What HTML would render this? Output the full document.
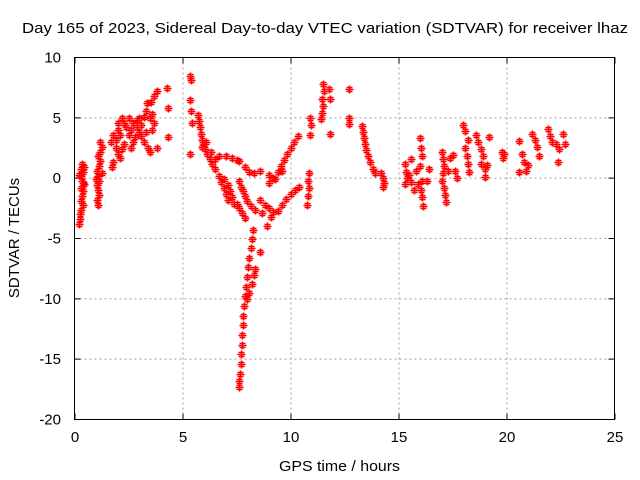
<!DOCTYPE html>
<html><head><meta charset="utf-8"><style>
body{margin:0;background:#fff}
svg{display:block;font-family:"Liberation Sans",sans-serif}
</style></head><body>
<svg id="chart" width="640" height="480">
<rect width="640" height="480" fill="#fff"/>
<text x="22" y="33" font-size="15" textLength="606" lengthAdjust="spacingAndGlyphs" fill="#000">Day 165 of 2023, Sidereal Day-to-day VTEC variation (SDTVAR) for receiver lhaz</text>
<text x="279" y="471" font-size="15" textLength="121" lengthAdjust="spacingAndGlyphs">GPS time / hours</text>
<text transform="translate(19,238) rotate(-90)" font-size="15" text-anchor="middle">SDTVAR / TECUs</text>
<g id="grid"></g><g id="ticks"></g><g id="marks"></g>
<rect x="74.5" y="57.5" width="540" height="362" fill="none" stroke="#000"/>
</svg>
<script>
const xTicks=[0,5,10,15,20,25];
const yTicks=[10,5,0,-5,-10,-15,-20];
const hours=[0.35,0.3,0.4,0.3,0.35,0.45,0.3,0.4,0.35,0.3,0.4,0.3,0.25,0.25,0.2,0.45,0.2,0.4,
1.1,1.05,1.15,1.1,1.05,1.15,1.1,1.05,1.15,1.2,1.1,1.2,1.25,1.2,1.0,1.25,
1.75,1.8,1.7,1.8,1.9,2.0,2.1,2.2,1.9,2.0,2.2,2.3,2.4,2.5,2.3,2.6,2.7,2.8,2.5,2.7,2.9,3.0,3.1,3.2,3.3,3.35,3.0,2.9,3.1,3.2,3.4,3.5,3.6,3.7,3.5,3.6,3.55,3.7,3.8,3.8,2.1,2.0,2.6,3.3,
4.3,4.35,4.35,5.35,5.4,5.35,5.4,5.45,5.35,
5.7,5.75,5.8,5.85,5.9,6.0,6.05,6.15,6.25,6.35,6.5,5.9,6.1,6.3,6.5,6.7,7.0,7.3,7.6,7.9,8.1,8.3,8.6,9.0,7.5,
6.7,6.8,6.9,7.0,7.1,6.9,7.1,7.2,7.3,7.4,7.6,7.7,7.8,7.9,8.0,8.15,8.35,7.5,7.6,7.75,7.9,
8.25,8.2,8.15,8.1,8.05,8.0,7.95,7.9,7.85,7.8,7.8,7.75,7.75,7.7,7.7,7.65,7.6,7.6,8.3,8.2,8.1,8.0,8.35,
8.6,8.8,9.0,9.2,8.7,9.1,8.9,8.6,9.4,9.6,9.8,10.0,10.2,10.4,
9.0,9.2,9.4,9.55,9.7,9.85,10.0,10.15,10.35,9.3,9.6,
10.9,10.95,10.9,10.85,10.8,10.85,10.8,10.75,
11.5,11.55,11.45,11.5,11.45,11.4,11.8,11.85,11.85,12.7,12.7,12.7,
13.3,13.35,13.4,13.45,13.5,13.6,13.7,13.8,13.9,14.3,14.35,14.3,14.2,
15.3,15.35,15.4,15.3,15.6,15.6,15.8,15.9,15.7,16.0,16.05,16.1,16.0,16.1,16.05,16.1,16.15,16.3,16.4,15.5,
17.0,17.05,17.1,17.05,17.0,17.1,17.15,17.2,17.3,17.4,17.5,17.6,17.7,
18.0,18.1,18.2,18.1,18.15,18.2,18.25,18.6,18.7,18.8,18.9,18.8,19.0,19.2,19.0,19.1,
19.8,19.85,19.9,20.6,20.7,20.8,20.9,20.6,21.0,21.2,21.3,21.4,21.5,21.9,22.0,22.1,22.3,22.45,22.4,22.6,22.7];
const sdtvar=[1.2,0.8,0.5,0.2,-0.2,-0.5,-0.8,-1.1,-1.5,-1.9,-2.2,-2.6,-3.0,-3.4,-3.8,0.9,0.3,-0.4,
-2.2,-1.8,-1.4,-1.0,-0.6,-0.2,0.2,0.6,1.0,1.4,1.8,2.2,2.6,3.0,-0.1,0.4,
0.9,1.3,3.0,3.6,2.5,2.0,1.7,2.4,3.2,4.0,5.0,4.6,4.2,3.6,2.8,2.5,3.0,3.4,5.0,4.6,4.2,3.8,4.4,5.1,5.6,6.2,5.0,4.8,3.5,3.0,2.5,2.2,4.0,4.6,5.0,5.3,6.3,6.8,7.2,2.5,3.6,4.6,4.0,3.8,
7.5,5.8,3.4,8.5,8.1,6.5,5.6,4.6,2.0,
5.2,4.7,4.2,3.7,3.2,2.8,2.4,2.0,1.6,1.2,0.8,2.6,3.0,2.2,1.6,1.8,1.8,1.7,1.4,0.9,0.5,0.4,0.6,0.3,1.5,
0.2,-0.3,-0.8,-1.3,-1.8,-0.1,-0.6,-1.1,-1.6,-2.1,-0.2,-0.7,-1.1,-1.5,-1.9,-2.3,-2.6,-2.1,-2.5,-2.9,-3.3,
-4.3,-5.0,-5.8,-6.6,-7.4,-8.2,-9.0,-9.8,-10.6,-11.4,-12.2,-13.0,-13.8,-14.6,-15.4,-16.2,-16.8,-17.3,-8.0,-8.8,-9.5,-10.0,-7.5,
-1.8,-2.2,-2.5,-2.8,-2.9,-3.2,-4.0,-6.1,-2.7,-2.2,-1.7,-1.3,-1.0,-0.7,
-0.4,0.0,0.5,1.0,1.5,2.0,2.5,3.0,3.5,-0.1,0.6,
5.0,4.4,3.6,0.4,-0.2,-0.8,-1.5,-2.2,
7.8,7.2,6.6,6.0,5.4,4.9,7.4,6.6,3.7,7.4,5.0,4.5,
4.3,3.8,3.3,2.8,2.3,1.8,1.3,0.8,0.4,0.0,-0.4,-0.7,0.4,
1.2,0.5,0,-0.5,1.6,-0.3,0.6,-0.5,-1.0,3.3,2.5,1.8,1.0,-0.2,-1.0,-1.6,-2.3,-0.2,0.8,0.3,
2.2,1.6,1.0,0.4,-0.2,-0.8,-1.4,-2.0,0.6,1.7,1.9,0.6,0.0,
4.4,3.9,3.2,2.5,1.8,1.2,0.5,3.6,3.0,2.4,1.8,1.2,0.8,3.4,0.1,1.1,
2.2,1.7,2.0,3.1,2.0,1.3,0.6,0.5,1.1,3.7,3.2,2.6,1.8,4.1,3.5,3.0,2.8,2.4,1.3,3.7,2.8];

const X0=74.5,X1=614.5,Y0=419.5,Y1=57.5;
function sx(v){return X0+(v-0)/(25-0)*(X1-X0);}
function sy(v){return Y0-(v-(-20))/(10-(-20))*(Y0-Y1);}
const NS='http://www.w3.org/2000/svg';
function mk(tag,attrs,parent){const e=document.createElementNS(NS,tag);for(const k in attrs)e.setAttribute(k,attrs[k]);parent.appendChild(e);return e;}
const grid=document.getElementById('grid'),ticks=document.getElementById('ticks'),marks=document.getElementById('marks');
xTicks.forEach(t=>{
  const x=Math.round(sx(t));
  if(t>0&&t<25){const g=mk('line',{x1:x,x2:x,y1:Y1,y2:Y0,stroke:'#a0a0a0','stroke-dasharray':'2,3'},grid);
  
  }
  const tk=mk('path',{d:`M${x},${Y0}v-6M${x},${Y1}v6`,stroke:'#000'},ticks);
  
  
  const l=mk('text',{x:x,y:442,'font-size':15,'text-anchor':'middle'},ticks);l.textContent=t;
  
  
});
yTicks.forEach(t=>{
  const y=sy(t);
  if(t<10&&t>-20){const g=mk('line',{x1:X0,x2:X1,y1:y,y2:y,stroke:'#a0a0a0','stroke-dasharray':'2,3'},grid);
  
  }
  const tk=mk('path',{d:`M${X0},${y}h6M${X1},${y}h-6`,stroke:'#000'},ticks);
  
  
  const l=mk('text',{x:61,y:y+5,'font-size':15,'text-anchor':'end'},ticks);l.textContent=t;
  
  
});
let d='';
for(let i=0;i<hours.length;i++){
  const x=Math.round(sx(hours[i]))+0.5,y=Math.round(sy(sdtvar[i]))+0.5;
  d+=`M${x-4},${y}h8M${x},${y-4}v8M${x-3},${y+2}h6M${x-3},${y-2}h6`;
}
const p=mk('path',{d:d,stroke:'#ff0000','stroke-width':1.6,fill:'none'},marks);


</script>
</body></html>
